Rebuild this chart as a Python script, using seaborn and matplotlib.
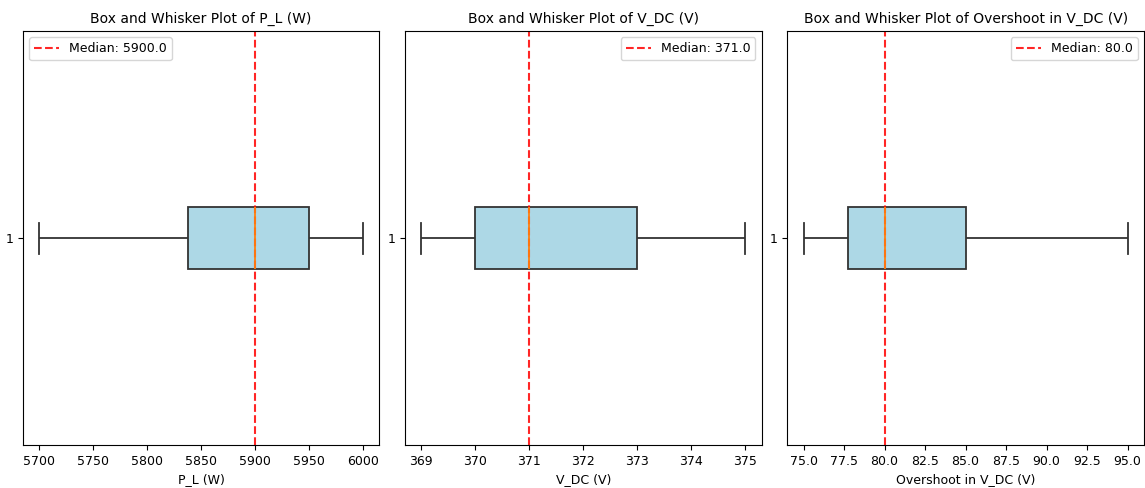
import numpy as np
import pandas as pd
import seaborn as sns
import matplotlib
matplotlib.use("Agg")
import matplotlib.pyplot as plt

# sample values for each measured quantity
p_load = [5700, 5800, 5875, 5900, 5950, 5950, 6000]
v_dc = [369, 370, 370, 371, 373, 373, 375]
overshoot = [75, 77.5, 78, 80, 85, 85, 95]

series = [p_load, v_dc, overshoot]
names = ["P_L (W)", "V_DC (V)", "Overshoot in V_DC (V)"]
legend_locs = ["upper left", "upper right", "upper right"]

fig, axes = plt.subplots(1, 3, figsize=(11.45, 4.88), dpi=100)
plt.subplots_adjust(left=0.020, right=0.999, top=0.936, bottom=0.088, wspace=0.072)

for ax, vals, name, loc in zip(axes, series, names, legend_locs):
    sns.boxplot(x=vals, ax=ax, orient="h", width=0.15, color="#add8e6",
                saturation=1, linecolor="#333333", linewidth=1.3,
                medianprops={"color": "#ff7f0e"})
    med = np.median(vals)
    ax.axvline(med, color="red", linestyle="--", linewidth=1.5, alpha=0.85,
               label=f"Median: {med:.1f}")
    ax.set_ylim(0.5, -0.5)
    ax.set_yticks([0], ["1"])
    ax.set_title(f"Box and Whisker Plot of {name}", fontsize=10)
    ax.set_xlabel(name, fontsize=9)
    ax.tick_params(labelsize=9)
    ax.legend(loc=loc, fontsize=9)

plt.savefig("out.png", dpi=100)
